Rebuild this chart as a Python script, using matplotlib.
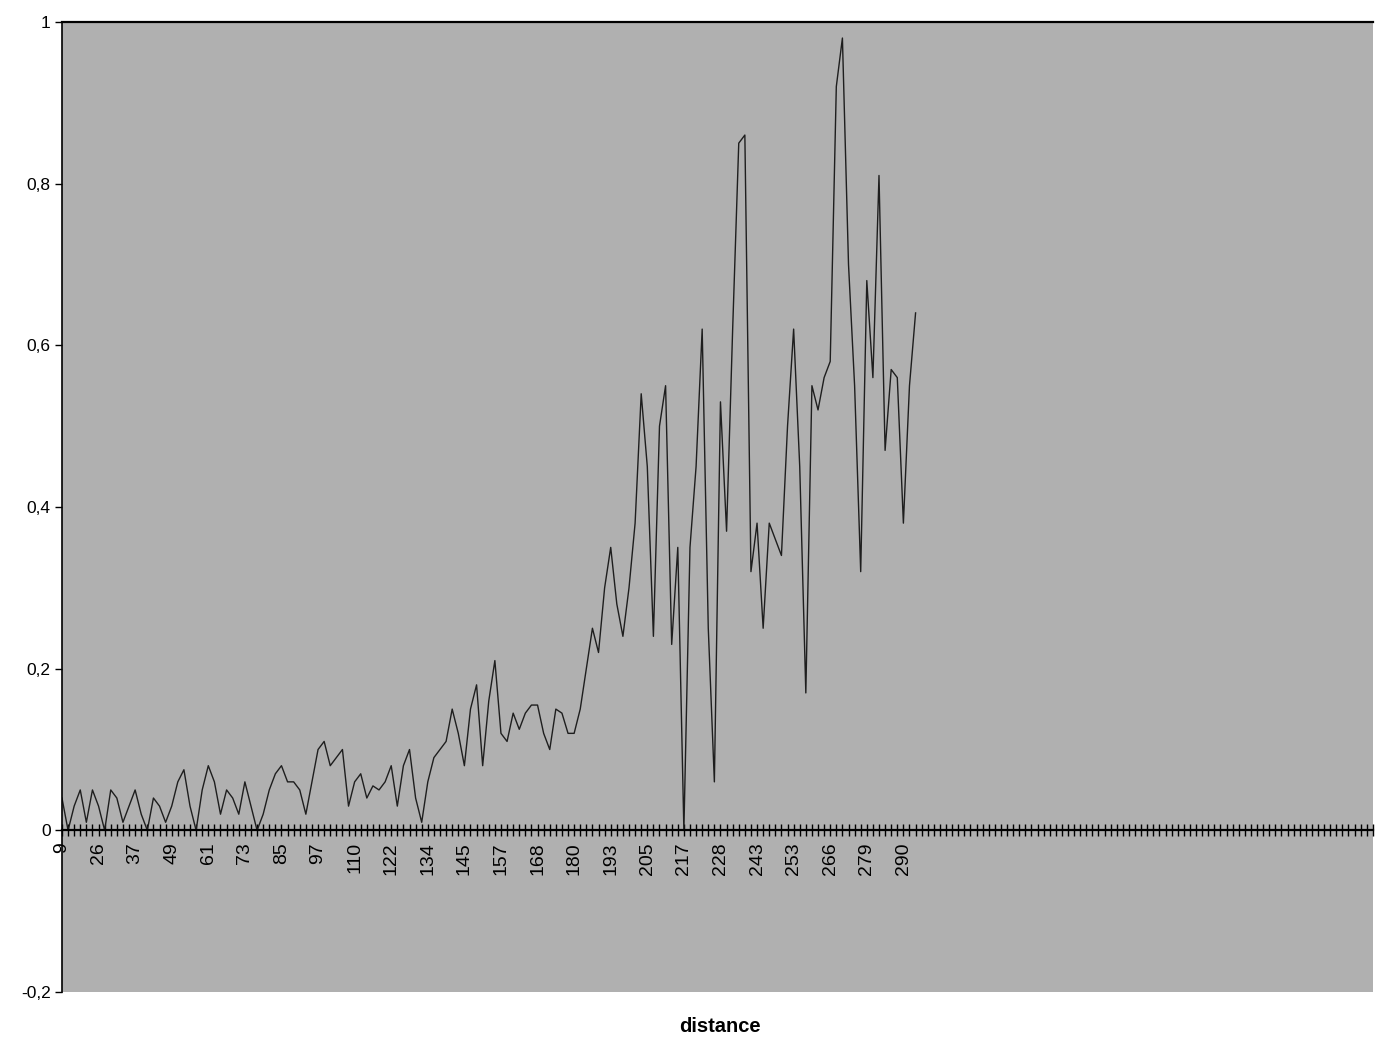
import matplotlib.pyplot as plt
from matplotlib.ticker import FixedLocator, FuncFormatter

plt.rcParams['font.family'] = ['Liberation Sans', 'DejaVu Sans']

# signal values, one per distance category
values = [
    0.04, 0.0, 0.03, 0.05, 0.01, 0.05, 0.03, 0.0, 0.05, 0.04,
    0.01, 0.03, 0.05, 0.02, 0.0, 0.04, 0.03, 0.01, 0.03, 0.06,
    0.075, 0.03, 0.0, 0.05, 0.08, 0.06, 0.02, 0.05, 0.04, 0.02,
    0.06, 0.03, 0.0, 0.02, 0.05, 0.07, 0.08, 0.06, 0.06, 0.05,
    0.02, 0.06, 0.1, 0.11, 0.08, 0.09, 0.1, 0.03, 0.06, 0.07,
    0.04, 0.055, 0.05, 0.06, 0.08, 0.03, 0.08, 0.1, 0.04, 0.01,
    0.06, 0.09, 0.1, 0.11, 0.15, 0.12, 0.08, 0.15, 0.18, 0.08,
    0.16, 0.21, 0.12, 0.11, 0.145, 0.125, 0.145, 0.155, 0.155, 0.12,
    0.10, 0.15, 0.145, 0.12, 0.12, 0.15, 0.20, 0.25, 0.22, 0.30,
    0.35, 0.28, 0.24, 0.30, 0.38, 0.54, 0.45, 0.24, 0.50, 0.55,
    0.23, 0.35, 0.0, 0.35, 0.45, 0.62, 0.25, 0.06, 0.53, 0.37,
    0.62, 0.85, 0.86, 0.32, 0.38, 0.25, 0.38, 0.36, 0.34, 0.50,
    0.62, 0.45, 0.17, 0.55, 0.52, 0.56, 0.58, 0.92, 0.98, 0.70,
    0.55, 0.32, 0.68, 0.56, 0.81, 0.47, 0.57, 0.56, 0.38, 0.55,
    0.64,
]
n_categories = 216
label_every = 6
distance_labels = ["9", "26", "37", "49", "61", "73", "85", "97", "110", "122",
                   "134", "145", "157", "168", "180", "193", "205", "217", "228",
                   "243", "253", "266", "279", "290"]
y_ticks = [-0.2, 0, 0.2, 0.4, 0.6, 0.8, 1]

fig = plt.figure(figsize=(13.77, 10.41), dpi=100)
ax = fig.add_axes([0.045, 0.047, 0.952, 0.932])
ax.set_facecolor('#b0b0b0')

ax.plot(range(len(values)), values, color='#1e1e1e', lw=1.0)

ax.set_xlim(0, n_categories - 1)
ax.set_ylim(-0.2, 1)

ax.spines['right'].set_visible(False)
ax.spines['bottom'].set_position(('data', 0))
ax.spines['bottom'].set_linewidth(1.6)
ax.spines['top'].set_linewidth(1.6)
ax.spines['left'].set_linewidth(1.2)

major = [i * label_every for i in range(len(distance_labels))]
ax.xaxis.set_major_locator(FixedLocator(major))
ax.set_xticklabels(distance_labels, rotation=90, fontsize=14)
ax.xaxis.set_minor_locator(FixedLocator(range(n_categories)))
ax.tick_params(axis='x', which='both', direction='inout', length=9, width=1, pad=4)

ax.set_yticks(y_ticks)
ax.yaxis.set_major_formatter(FuncFormatter(lambda v, p: ('%g' % round(v, 2)).replace('.', ',')))
ax.tick_params(axis='y', direction='out', length=5, width=1, labelsize=12.5, pad=3)

fig.text(0.523, 0.014, "distance", ha='center', va='center', fontsize=14.5, fontweight='bold')

fig.savefig('out.png', dpi=100)
